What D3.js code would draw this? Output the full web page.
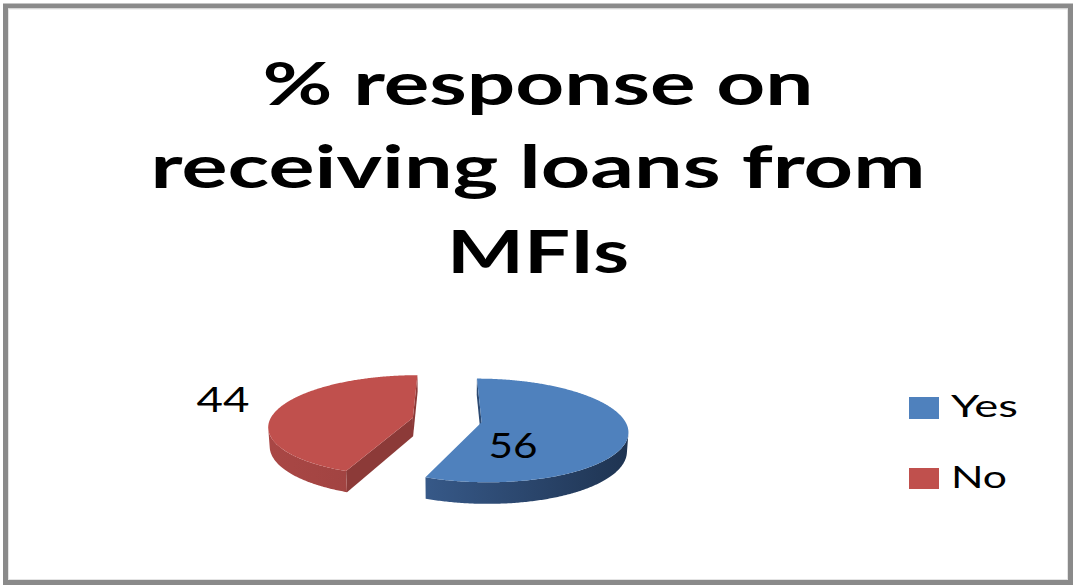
<!DOCTYPE html>
<html>
<head>
<meta charset="utf-8">
<script src="https://cdn.jsdelivr.net/npm/d3@7/dist/d3.min.js"></script>
<style>
  html, body { margin: 0; padding: 0; background: #fff; }
  svg { display: block; }
</style>
</head>
<body>
<svg id="chart" width="1073" height="585"></svg>
<script>
// Survey answers: share of respondents who received loans from MFIs
const categories = ["Yes", "No"];
const values = [56, 44];
const titleLines = ["% response on", "receiving loans from", "MFIs"];

const topColors  = ["#4f81bd", "#c0504d"];
const sideLight  = ["#4169a0", "#a94745"];
const sideDark   = ["#1f3452", "#8e3a38"];
const wallColors = ["#2c4a72", "#8c3a38"];

const svg = d3.select("#chart");
const defs = svg.append("defs");

// Frame
svg.append("rect")
  .attr("x", 5.5).attr("y", 6).attr("width", 1065).attr("height", 576.5)
  .attr("fill", "#fff").attr("stroke", "#8a8a8a").attr("stroke-width", 5);
svg.append("rect")
  .attr("x", 8.5).attr("y", 9).attr("width", 1059).attr("height", 570.5)
  .attr("fill", "none").attr("stroke", "#e4e4e4").attr("stroke-width", 1);

// Title
const titleSpec = [
  { y: 105, w: 551 },
  { y: 188, w: 775 },
  { y: 273, w: 182 }
];
const title = svg.append("g")
  .attr("font-family", "Lato, 'Open Sans', sans-serif")
  .attr("font-weight", "bold")
  .attr("font-size", 60)
  .attr("fill", "#000")
  .attr("text-anchor", "middle");
titleLines.forEach((t, i) => {
  title.append("text")
    .attr("x", 538).attr("y", titleSpec[i].y)
    .attr("textLength", titleSpec[i].w)
    .attr("lengthAdjust", "spacingAndGlyphs")
    .text(t);
});

// ---- 3D pie with perspective ----
// World: pie lies in the X/Z plane (Z toward the viewer), H is thickness downward.
const view = { x0: 447, y0: 420, R: 143, T: 20, tilt: 20.4 * Math.PI / 180, D: 860, explode: 35 };
const sinT = Math.sin(view.tilt), cosT = Math.cos(view.tilt);
const camera = { X: 0, Z: view.D * cosT, H: -view.D * sinT };

function project(X, Z, H) {
  const yc = Z * sinT + H * cosT;
  const zc = Z * cosT - H * sinT;
  const s = view.D / (view.D - zc);
  return [view.x0 + X * s, view.y0 + yc * s];
}
const dir = a => [Math.sin(a), -Math.cos(a)];
function worldPt(c, a, r, H) {
  const [dx, dz] = dir(a);
  return [c.X + dx * view.R * r, c.Z + dz * view.R * r, H];
}
const scr = (c, a, r, H) => project(...worldPt(c, a, r, H));

function facesCamera(n, p) {
  return n[0] * (camera.X - p[0]) + n[1] * (camera.Z - p[1]) > 0;
}

function arcPoints(c, a0, a1, H) {
  const n = Math.max(2, Math.ceil(Math.abs(a1 - a0) / 0.01));
  return d3.range(n + 1).map(i => scr(c, a0 + (a1 - a0) * i / n, 1, H));
}

const pie = d3.pie().sort(null).value(d => d).startAngle(0).endAngle(2 * Math.PI);
const arcs = pie(values);
const line = d3.line();
const pieG = svg.append("g");

arcs.forEach((d, i) => {
  const mid = (d.startAngle + d.endAngle) / 2;
  const [ex, ez] = dir(mid);
  const c = { X: ex * view.explode, Z: ez * view.explode };
  const g = pieG.append("g");

  // side gradient across the slice
  const left = project(c.X - view.R, c.Z, 0)[0], right = project(c.X + view.R, c.Z, 0)[0];
  const gid = "side" + i;
  const grad = defs.append("linearGradient").attr("id", gid)
    .attr("gradientUnits", "userSpaceOnUse")
    .attr("x1", left).attr("x2", right).attr("y1", 0).attr("y2", 0);
  grad.append("stop").attr("offset", "0%").attr("stop-color", sideLight[i]);
  grad.append("stop").attr("offset", "100%").attr("stop-color", sideDark[i]);

  // radial walls facing the camera
  [[d.startAngle, d.startAngle - Math.PI / 2], [d.endAngle, d.endAngle + Math.PI / 2]].forEach(([a, na]) => {
    const m = worldPt(c, a, 0.5, 0);
    if (!facesCamera(dir(na), m)) return;
    const poly = [scr(c, a, 0, 0), scr(c, a, 1, 0), scr(c, a, 1, view.T), scr(c, a, 0, view.T)];
    g.append("path").attr("d", line(poly) + "Z").attr("fill", wallColors[i]);
  });

  // outer curved side, only where it faces the camera
  const n = Math.ceil((d.endAngle - d.startAngle) / 0.005);
  const vis = d3.range(n + 1).map(k => d.startAngle + (d.endAngle - d.startAngle) * k / n)
    .filter(a => facesCamera(dir(a), worldPt(c, a, 1, 0)));
  if (vis.length > 1) {
    const s0 = vis[0], s1 = vis[vis.length - 1];
    const pts = arcPoints(c, s0, s1, 0).concat(arcPoints(c, s1, s0, view.T));
    g.append("path").attr("d", line(pts) + "Z").attr("fill", `url(#${gid})`);
  }

  // top face
  const topFace = [scr(c, d.startAngle, 0, 0)].concat(arcPoints(c, d.startAngle, d.endAngle, 0));
  g.append("path").attr("d", line(topFace) + "Z").attr("fill", topColors[i]);
});

// Data labels
const labelPos = [{ x: 513, y: 458, w: 49 }, { x: 223, y: 412, w: 53 }];
arcs.forEach((d, i) => {
  svg.append("text")
    .attr("x", labelPos[i].x).attr("y", labelPos[i].y)
    .attr("text-anchor", "middle")
    .attr("font-family", "Lato, 'Open Sans', sans-serif")
    .attr("font-size", 35)
    .attr("fill", "#000")
    .attr("textLength", labelPos[i].w)
    .attr("lengthAdjust", "spacingAndGlyphs")
    .text(d.data);
});

// Legend
const legend = svg.append("g");
const legendRows = [
  { y: 397, h: 22, ty: 417, tw: 67 },
  { y: 468, h: 21, ty: 488, tw: 56 }
];
categories.forEach((cat, i) => {
  legend.append("rect")
    .attr("x", 909).attr("y", legendRows[i].y)
    .attr("width", 30).attr("height", legendRows[i].h)
    .attr("fill", topColors[i]);
  legend.append("text")
    .attr("x", 951).attr("y", legendRows[i].ty)
    .attr("font-family", "Lato, 'Open Sans', sans-serif")
    .attr("font-size", 31)
    .attr("fill", "#000")
    .attr("textLength", legendRows[i].tw)
    .attr("lengthAdjust", "spacingAndGlyphs")
    .text(cat);
});
</script>
</body>
</html>
